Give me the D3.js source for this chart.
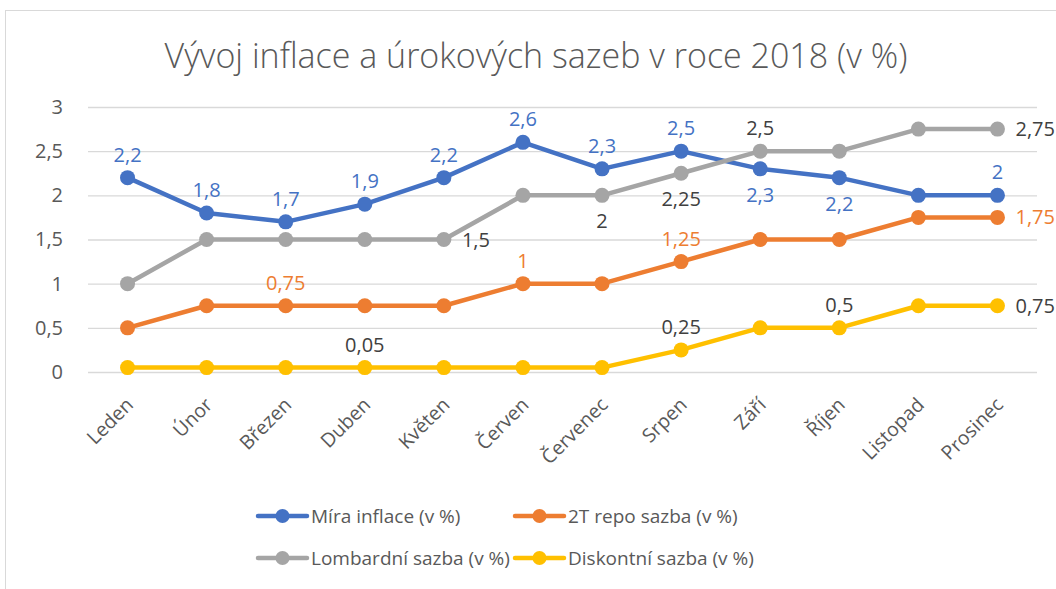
<!DOCTYPE html>
<html><head><meta charset="utf-8">
<script src="https://cdn.jsdelivr.net/npm/d3@7"></script>
<style>
body{margin:0;background:#fff;}
svg{display:block;font-family:"Open Sans",sans-serif;}
</style></head>
<body><svg id="c" width="1056" height="589"></svg>
<script>
const months = ["Leden","Únor","Březen","Duben","Květen","Červen","Červenec","Srpen","Září","Říjen","Listopad","Prosinec"];
const inflace = [2.2,1.8,1.7,1.9,2.2,2.6,2.3,2.5,2.3,2.2,2.0,2.0];
const repo = [0.5,0.75,0.75,0.75,0.75,1,1,1.25,1.5,1.5,1.75,1.75];
const lombard = [1,1.5,1.5,1.5,1.5,2,2,2.25,2.5,2.5,2.75,2.75];
const diskont = [0.05,0.05,0.05,0.05,0.05,0.05,0.05,0.25,0.5,0.5,0.75,0.75];
const yTicks = [0,0.5,1,1.5,2,2.5,3];
const seriesNames = ["Míra inflace (v %)","2T repo sazba (v %)","Lombardní sazba (v %)","Diskontní sazba (v %)"];
// label placement per point: a=above, b=below, r=right, null=none
const inflaceLbl = ["a","a","a","a","a","a","a","a","b","b",null,"a"];
const repoLbl = [null,null,"a",null,null,"a",null,"a",null,null,null,"r"];
const lombardLbl = [null,null,null,null,"r",null,"b","b","a",null,null,"r"];
const diskontLbl = [null,null,null,"a",null,null,null,"a",null,"a",null,"r"];

const series = [
  {name:seriesNames[0], values:inflace, lbl:inflaceLbl, color:"#4472C4", lc:"#4472C4"},
  {name:seriesNames[1], values:repo, lbl:repoLbl, color:"#ED7D31", lc:"#ED7D31"},
  {name:seriesNames[2], values:lombard, lbl:lombardLbl, color:"#A5A5A5", lc:"#404040"},
  {name:seriesNames[3], values:diskont, lbl:diskontLbl, color:"#FFC000", lc:"#404040"}
];
const fmt = v => String(v).replace(".", ",");

const svg = d3.select("#c");
svg.append("rect").attr("x",5.5).attr("y",10.5).attr("width",1200).attr("height",800)
  .attr("fill","#fff").attr("stroke","#D9D9D9").attr("stroke-width",1);

svg.append("text").attr("x",536).attr("y",68).attr("text-anchor","middle")
  .attr("font-size",34).attr("font-weight",300).attr("fill","#595959")
  .text("Vývoj inflace a úrokových sazeb v roce 2018 (v %)");

const x = d3.scaleBand().domain(months).range([88,1037]).padding(0);
const cx = m => x(m) + x.bandwidth()/2;
const y = d3.scaleLinear().domain([0,3]).range([372,107]);

const gy = svg.append("g").attr("transform","translate(88,0)")
  .call(d3.axisLeft(y).tickValues(yTicks).tickFormat(fmt).tickSize(-949).tickPadding(25));
gy.select(".domain").remove();
gy.selectAll(".tick line").attr("stroke","#D9D9D9").attr("stroke-width",1.3);
gy.selectAll(".tick text").attr("font-size",20).attr("fill","#595959").attr("font-family","Open Sans");

const gx = svg.append("g").attr("transform","translate(0,372)")
  .call(d3.axisBottom(x).tickSize(0).tickPadding(0));
gx.select(".domain").remove();
gx.selectAll(".tick text").attr("font-size",19.5).attr("fill","#595959").attr("font-family","Open Sans")
  .attr("text-anchor","end").attr("dy",0).attr("y",0)
  .attr("transform","translate(7,34) rotate(-45)");

const line = d3.line().x((d,i)=>cx(months[i])).y(d=>y(d));
series.forEach(s=>{
  const g = svg.append("g");
  g.append("path").datum(s.values).attr("d",line).attr("fill","none")
    .attr("stroke",s.color).attr("stroke-width",4.5).attr("stroke-linejoin","round").attr("stroke-linecap","round");
  g.selectAll("circle").data(s.values).join("circle")
    .attr("cx",(d,i)=>cx(months[i])).attr("cy",d=>y(d)).attr("r",7.5).attr("fill",s.color);
  g.selectAll("text").data(s.values.map((v,i)=>({v,i,p:s.lbl[i]})).filter(d=>d.p)).join("text")
    .attr("font-size",20).attr("fill",s.lc)
    .attr("x",d=>cx(months[d.i]) + (d.p==="r"?18:0))
    .attr("y",d=>y(d.v) + (d.p==="a"?-23:d.p==="b"?26:0))
    .attr("dy","0.35em")
    .attr("text-anchor",d=>d.p==="r"?"start":"middle")
    .text(d=>fmt(d.v));
});

// legend
const legPos = [[258,516],[515,516],[258,558],[515,558]];
series.forEach((s,i)=>{
  const [lx,ly] = legPos[i];
  const g = svg.append("g").attr("transform",`translate(${lx},${ly})`);
  g.append("line").attr("x1",0).attr("x2",49).attr("y1",0).attr("y2",0)
    .attr("stroke",s.color).attr("stroke-width",4.5).attr("stroke-linecap","round");
  g.append("circle").attr("cx",24.5).attr("cy",0).attr("r",7).attr("fill",s.color);
  g.append("text").attr("x",53).attr("y",0).attr("dy","0.35em").attr("font-size",19)
    .attr("fill","#595959").text(s.name);
});
</script></body></html>
